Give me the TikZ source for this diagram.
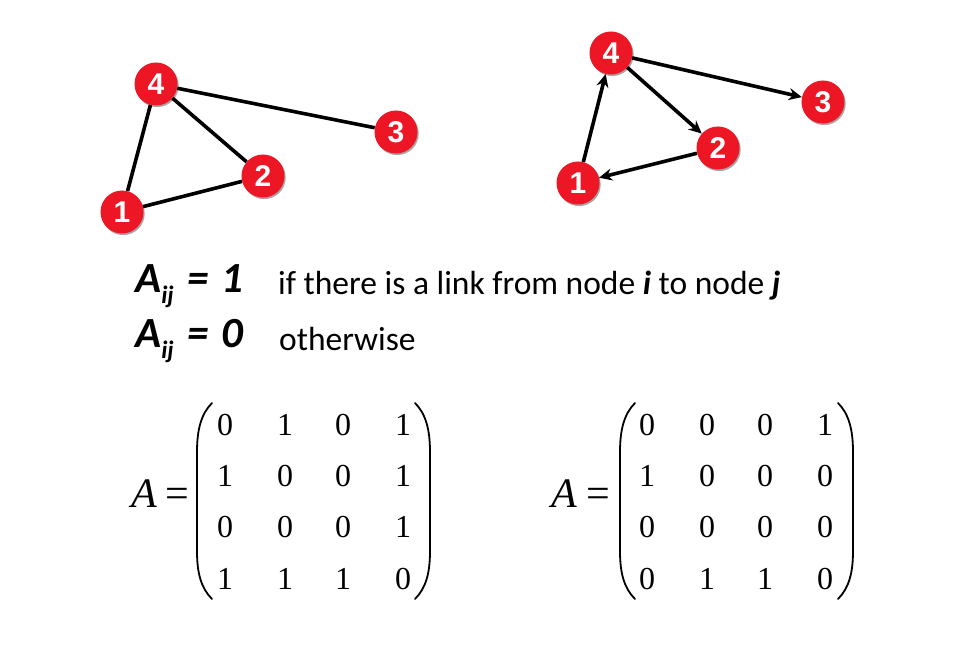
\documentclass[tikz,border=0pt]{standalone}
\usepackage{fontspec}
\setmainfont{Liberation Serif}
\newfontfamily\calibri{Carlito}
\newfontfamily\arialfont{Liberation Sans}
\usetikzlibrary{arrows.meta,shadows}
\definecolor{nodered}{RGB}{237,22,36}
\tikzset{
  vtx/.style={circle, fill=nodered, minimum size=43pt, inner sep=0pt, text=white,
    font=\arialfont\bfseries\fontsize{30}{30}\selectfont,
    drop shadow={shadow xshift=1.2pt, shadow yshift=-1.6pt, opacity=0.35, fill=black}},
  edge/.style={line width=3.6pt, black},
  arc/.style={edge, -{Stealth[length=13pt,width=12pt]}},
  entry/.style={font=\fontsize{32}{32}\selectfont, inner sep=0pt},
  eqlabel/.style={font=\fontsize{42}{42}\selectfont, inner sep=0pt, anchor=base},
  paren/.style={line width=1.8pt, line cap=round},
  boldpart/.style={font=\calibri\bfseries\itshape\fontsize{43}{43}\selectfont, inner sep=0pt, anchor=base west},
  plainpart/.style={font=\calibri\fontsize{33.5}{33.5}\selectfont, inner sep=0pt, anchor=base west},
}
\newcommand{\subij}{{\fontsize{25}{25}\selectfont\raisebox{-11pt}{ij}}}
\begin{document}
\begin{tikzpicture}[x=1pt,y=-1pt]
\useasboundingbox (0,0) rectangle (970,655);

% left graph (undirected)
\node[vtx] (L4) at (156,84) {4};
\node[vtx] (L3) at (396,132) {3};
\node[vtx] (L2) at (263,176) {2};
\node[vtx] (L1) at (122,212) {1};
\draw[edge] (L1) -- (L4);
\draw[edge] (L4) -- (L2);
\draw[edge] (L4) -- (L3);
\draw[edge] (L1) -- (L2);

% right graph (directed)
\node[vtx] (R4) at (611,53) {4};
\node[vtx] (R3) at (823,102) {3};
\node[vtx] (R2) at (718,148) {2};
\node[vtx] (R1) at (578,183) {1};
\draw[arc] (R1) -- (R4);
\draw[arc] (R4) -- (R2);
\draw[arc] (R4) -- (R3);
\draw[arc] (R2) -- (R1);

% definition text
\node[boldpart] (d1) at (135,293) {A\subij{}\hspace{4pt} =\hspace{3pt} 1};
\node[plainpart] (t1) at (278,295) {if there is a link from node \textbf{\textit{i}} to node \textbf{\textit{j}}};
\node[boldpart] (d0) at (135,348) {A\subij{}\hspace{4pt} =\hspace{3pt} 0};
\node[plainpart] (t0) at (279,350) {otherwise};

% left matrix
\node[eqlabel] (LA) at (144,507) {\textit{A}};
\node[eqlabel] (Leq) at (177,507) {=};
\draw[paren] (212,403) .. controls (201,414) and (197,430) .. (197,452) -- (197,551) .. controls (197,573) and (201,588) .. (212,599);
\draw[paren] (415,403) .. controls (426,414) and (430,430) .. (430,452) -- (430,551) .. controls (430,573) and (426,588) .. (415,599);
\foreach \r/\y/\vals in {1/425/{0,1,0,1},2/476/{1,0,0,1},3/527/{0,0,0,1},4/579/{1,1,1,0}}{
  \foreach \v [count=\c] in \vals {
    \pgfmathsetmacro{\xx}{{225,285,343,403}[\c-1]}
    \node[entry] (L-\r-\c) at (\xx,\y) {\v};
  }
}

% right matrix
\node[eqlabel] (RA) at (564,507) {\textit{A}};
\node[eqlabel] (Req) at (598,507) {=};
\draw[paren] (635,403) .. controls (624,414) and (620,430) .. (620,452) -- (620,551) .. controls (620,573) and (624,588) .. (635,599);
\draw[paren] (838,403) .. controls (849,414) and (853,430) .. (853,452) -- (853,551) .. controls (853,573) and (849,588) .. (838,599);
\foreach \r/\y/\vals in {1/425/{0,0,0,1},2/476/{1,0,0,0},3/527/{0,0,0,0},4/579/{0,1,1,0}}{
  \foreach \v [count=\c] in \vals {
    \pgfmathsetmacro{\xx}{{647,707,765,825}[\c-1]}
    \node[entry] (R-\r-\c) at (\xx,\y) {\v};
  }
}
\end{tikzpicture}
\end{document}
